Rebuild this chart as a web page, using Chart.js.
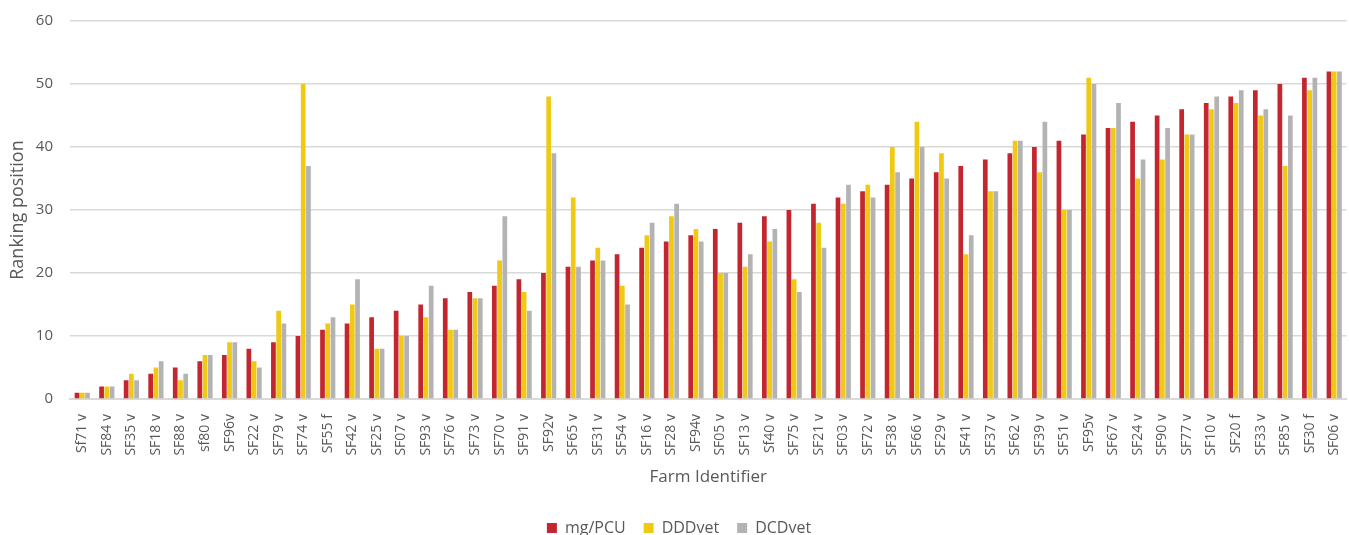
<!DOCTYPE html>
<html>
<head>
<meta charset="utf-8">
<script src="https://cdn.jsdelivr.net/npm/chart.js@4/dist/chart.umd.min.js"></script>
<style>
  html, body { margin: 0; padding: 0; background: #ffffff; overflow: hidden; }
  #wrap { position: relative; width: 1358px; height: 551px; margin-top: -5px; }
</style>
</head>
<body>
<div id="wrap"><canvas id="chart"></canvas></div>
<script>
// Farms, ordered by their mg/PCU ranking
const farms = [
  "Sf71 v", "SF84 v", "SF35 v", "SF18 v", "SF88 v", "sf80 v", "SF96v", "SF22 v",
  "SF79 v", "SF74 v", "SF55 f", "SF42 v", "SF25 v", "SF07 v", "SF93 v", "SF76 v",
  "SF73 v", "SF70 v", "SF91 v", "SF92v", "SF65 v", "SF31 v", "SF54 v", "SF16 v",
  "SF28 v", "SF94v", "SF05 v", "SF13 v", "Sf40 v", "SF75 v", "SF21 v", "SF03 v",
  "SF72 v", "SF38 v", "SF66 v", "SF29 v", "SF41 v", "SF37 v", "SF62 v", "SF39 v",
  "SF51 v", "SF95v", "SF67 v", "SF24 v", "SF90 v", "SF77 v", "SF10 v", "SF20 f",
  "SF33 v", "SF85 v", "SF30 f", "SF06 v"
];

// Ranking position under each indicator
const mgPCU = [
  1, 2, 3, 4, 5, 6, 7, 8, 9, 10, 11, 12, 13, 14, 15, 16, 17, 18, 19, 20,
  21, 22, 23, 24, 25, 26, 27, 28, 29, 30, 31, 32, 33, 34, 35, 36, 37, 38, 39, 40,
  41, 42, 43, 44, 45, 46, 47, 48, 49, 50, 51, 52
];
const dddVet = [
  1, 2, 4, 5, 3, 7, 9, 6, 14, 50, 12, 15, 8, 10, 13, 11, 16, 22, 17, 48,
  32, 24, 18, 26, 29, 27, 20, 21, 25, 19, 28, 31, 34, 40, 44, 39, 23, 33, 41, 36,
  30, 51, 43, 35, 38, 42, 46, 47, 45, 37, 49, 52
];
const dcdVet = [
  1, 2, 3, 6, 4, 7, 9, 5, 12, 37, 13, 19, 8, 10, 18, 11, 16, 29, 14, 39,
  21, 22, 15, 28, 31, 25, 20, 23, 27, 17, 24, 34, 32, 36, 40, 35, 26, 33, 41, 44,
  30, 50, 47, 38, 43, 42, 48, 49, 46, 45, 51, 52
];

const seriesNames = ["mg/PCU", "DDDvet", "DCDvet"];
const seriesColors = ["#C3262E", "#F0C915", "#B3B3B3"];

const yMin = 0, yMax = 60, yStep = 10;

const textColor = "#595959";
const gridColor = "#D9D9D9";
const fontFamily = "'Open Sans', 'Noto Sans', 'Liberation Sans', sans-serif";

new Chart(document.getElementById("chart"), {
  type: "bar",
  data: {
    labels: farms,
    datasets: [mgPCU, dddVet, dcdVet].map((vals, i) => ({
      label: seriesNames[i],
      data: vals,
      backgroundColor: seriesColors[i],
      borderWidth: 0,
      categoryPercentage: 0.64,
      barPercentage: 0.9
    }))
  },
  options: {
    responsive: true,
    maintainAspectRatio: false,
    animation: false,
    layout: { padding: { top: 0, right: 0, left: 0, bottom: 0 } },
    plugins: {
      tooltip: { enabled: false },
      legend: {
        position: "bottom",
        labels: {
          color: textColor,
          font: { family: fontFamily, size: 16 },
          boxWidth: 10,
          boxHeight: 10,
          padding: 18
        }
      }
    },
    scales: {
      x: {
        grid: { display: false },
        border: { display: true, color: gridColor, width: 2 },
        ticks: {
          color: textColor,
          font: { family: fontFamily, size: 14 },
          minRotation: 90,
          maxRotation: 90,
          autoSkip: false,
          padding: 7
        },
        title: {
          display: true,
          text: "Farm Identifier",
          color: textColor,
          font: { family: fontFamily, size: 17 },
          padding: { top: 4, bottom: 15 }
        }
      },
      y: {
        min: yMin,
        max: yMax,
        afterFit: (scale) => { scale.width = 70; },
        grid: { color: gridColor, lineWidth: 1.5, drawTicks: false },
        border: { display: false },
        ticks: {
          stepSize: yStep,
          color: textColor,
          font: { family: fontFamily, size: 15 },
          padding: 17
        },
        title: {
          display: true,
          text: "Ranking position",
          color: textColor,
          font: { family: fontFamily, size: 18 },
          padding: { top: 7, bottom: 0 }
        }
      }
    }
  }
});
</script>
</body>
</html>
